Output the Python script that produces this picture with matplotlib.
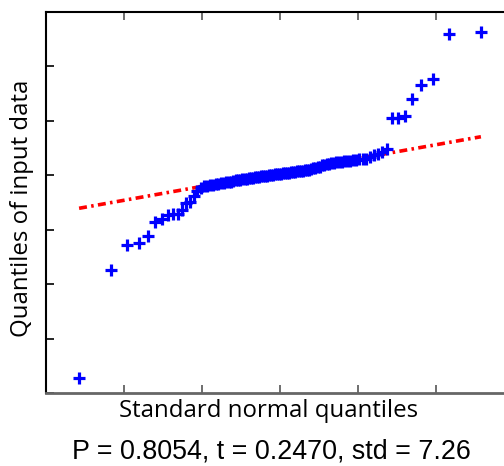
import numpy as np
import matplotlib
matplotlib.use("Agg")
import matplotlib.pyplot as plt
from statistics import NormalDist

# sorted sample (input data)
sample = [-37.3, -17.5, -12.9, -12.4, -11.2, -8.7, -8.0, -7.3, -7.2, -7.1,
          -6.5, -5.2, -4.9, -3.8, -3.0, -2.3, -2.1, -2.0, -1.9, -1.8,
          -1.7, -1.6, -1.5, -1.4, -1.3, -1.25, -1.2, -1.1, -1.0, -0.9,
          -0.9, -0.8, -0.75, -0.7, -0.6, -0.55, -0.5, -0.4, -0.35, -0.3,
          -0.25, -0.2, -0.15, -0.1, -0.05, 0.0, 0.05, 0.1, 0.15, 0.2,
          0.25, 0.3, 0.35, 0.4, 0.45, 0.5, 0.55, 0.6, 0.65, 0.7,
          0.75, 0.8, 0.85, 0.95, 1.0, 1.1, 1.2, 1.3, 1.4, 1.5,
          1.75, 1.85, 1.95, 2.05, 2.15, 2.25, 2.3, 2.4, 2.45, 2.5,
          2.6, 2.65, 2.7, 2.8, 2.85, 2.9, 3.0, 3.3, 3.6, 3.8,
          4.3, 4.75, 10.5, 10.5, 10.8, 14.0, 16.6, 17.7, 25.8, 26.2]

x_ticks = [-3, -2, -1, 0, 1, 2, 3]
y_ticks = [-40, -30, -20, -10, 0, 10, 20, 30]
stats_text = "P = 0.8054, t = 0.2470, std = 7.26"

y = np.sort(np.array(sample))
n = len(y)
# theoretical normal quantiles, plotting positions (i-0.5)/n
x = np.array([NormalDist().inv_cdf((i + 0.5) / n) for i in range(n)])

# reference line through 1st and 3rd quartiles
q1x, q3x = NormalDist().inv_cdf(0.25), NormalDist().inv_cdf(0.75)
q1y, q3y = np.percentile(y, [25, 75])
slope = (q3y - q1y) / (q3x - q1x)
icpt = q1y - slope * q1x
xl = np.array([x.min(), x.max()])

fig = plt.figure(figsize=(5.04, 4.66), dpi=100)
ax = fig.add_axes([46 / 504, 1 - 393 / 466, 468 / 504, (393 - 11.5) / 466])

ax.plot(xl, icpt + slope * xl, color="red", linestyle=(0, (2.2, 1.2, 0.7, 1.2)),
        linewidth=2.6, zorder=1)
ax.plot(x, y, "+", color="blue", markersize=8, markeredgewidth=2.3, zorder=2)

ax.set_xlim(-3, 3)
ax.set_ylim(-40, 30)
ax.set_xticks(x_ticks)
ax.set_yticks(y_ticks)
ax.set_xticklabels([])
ax.set_yticklabels([])
ax.tick_params(direction="in", length=6, width=1.2, top=True, right=False)
ax.tick_params(axis="x", colors="#555555")
for s in ["top", "left"]:
    ax.spines[s].set_linewidth(1.5)
ax.spines["bottom"].set_linewidth(2)
ax.spines["bottom"].set_color("#666666")
ax.spines["right"].set_visible(False)

fig.text(269 / 504, 1 - 411 / 466, "Standard normal quantiles", ha="center", va="center",
         fontsize=17.3, family="Open Sans")
fig.text(22 / 504, 1 - 208 / 466, "Quantiles of input data", ha="center", va="center",
         rotation=90, fontsize=17.3, family="Open Sans")
fig.text(271 / 504, 1 - 451 / 466, stats_text, ha="center", va="center",
         fontsize=19.4, family="Liberation Sans")

fig.savefig("out.png", dpi=100)
